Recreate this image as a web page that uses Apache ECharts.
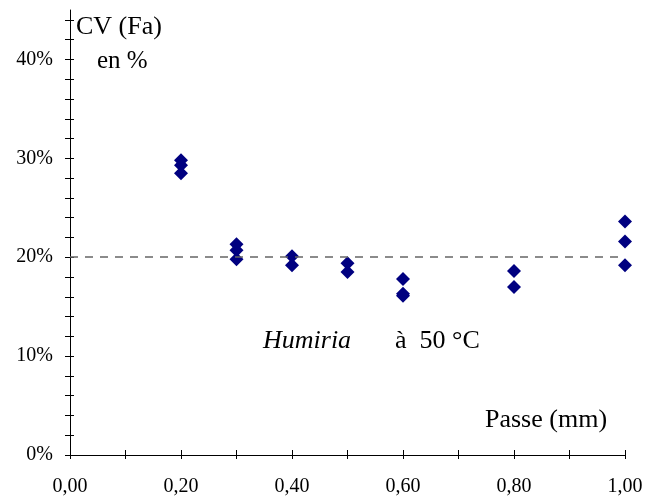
<!DOCTYPE html>
<html>
<head>
<meta charset="utf-8">
<script src="https://cdn.jsdelivr.net/npm/echarts@6/dist/echarts.min.js"></script>
<style>
  html, body { margin: 0; padding: 0; background: #fff; }
  #chart { width: 653px; height: 501px; }
</style>
</head>
<body>
<div id="chart"></div>
<script>
// Passe (mm) et CV mesurés (3 répétitions max par passe)
const passes = [0.2, 0.2, 0.2, 0.3, 0.3, 0.3, 0.4, 0.4, 0.5, 0.5, 0.6, 0.6, 0.6, 0.8, 0.8, 1.0, 1.0, 1.0];
const cvValues = [0.298, 0.293, 0.285, 0.213, 0.207, 0.198, 0.201, 0.192, 0.194, 0.185, 0.178, 0.163, 0.161, 0.186, 0.170, 0.236, 0.216, 0.192];
const refLevel = 0.20;
const xLabels = ['0,00', '0,20', '0,40', '0,60', '0,80', '1,00'];
const yLabels = ['0%', '10%', '20%', '30%', '40%'];

const font = 'Liberation Serif, Times New Roman, serif';

// positions des graduations (pas des données)
const yTicks = [];
for (let i = 0; i <= 22; i++) yTicks.push(+(i * 0.02).toFixed(2));

const chart = echarts.init(document.getElementById('chart'));

const axisLine = { lineStyle: { color: '#000', width: 1 } };

const option = {
  animation: false,
  backgroundColor: '#fff',
  grid: { left: 70, right: 28, top: 10, bottom: 46 },
  xAxis: [
    {
      type: 'value', min: 0, max: 1, interval: 0.1,
      axisLine: axisLine,
      splitLine: { show: false },
      axisTick: { show: true, length: 4, lineStyle: { color: '#000' } },
      axisLabel: {
        color: '#000', fontFamily: font, fontSize: 20, margin: 22,
        formatter: v => {
          const i = Math.round(v * 10);
          return i % 2 === 0 ? xLabels[i / 2] : '';
        }
      }
    },
    {
      type: 'value', min: 0, max: 1, interval: 0.1, position: 'bottom',
      axisLine: { show: false },
      splitLine: { show: false },
      axisTick: { show: true, inside: true, length: 5, lineStyle: { color: '#000' } },
      axisLabel: { show: false }
    }
  ],
  yAxis: [
    {
      type: 'value', min: 0, max: 0.45,
      axisLine: axisLine,
      splitLine: { show: false },
      axisTick: { show: true, length: 5, customValues: yTicks, lineStyle: { color: '#000' } },
      axisLabel: {
        color: '#000', fontFamily: font, fontSize: 20, margin: 17,
        customValues: [0, 0.1, 0.2, 0.3, 0.4],
        formatter: v => yLabels[Math.round(v * 10)]
      }
    },
    {
      type: 'value', min: 0, max: 0.45, position: 'left',
      axisLine: { show: false },
      splitLine: { show: false },
      axisTick: { show: true, inside: true, length: 4, customValues: yTicks, lineStyle: { color: '#000' } },
      axisLabel: { show: false }
    }
  ],
  series: [
    {
      type: 'scatter',
      xAxisIndex: 0, yAxisIndex: 0,
      symbol: 'path://M0,-1L1,0L0,1L-1,0Z',
      symbolSize: 14,
      itemStyle: { color: '#000080', opacity: 1 },
      data: passes.map((p, i) => [p, cvValues[i]]),
      markLine: {
        silent: true,
        symbol: 'none',
        label: { show: false },
        lineStyle: { color: '#666', type: [8, 7], width: 1.5 },
        data: [[{ coord: [0, refLevel] }, { coord: [1, refLevel] }]]
      }
    }
  ],
  graphic: [
    { type: 'text', left: 76, top: 14, style: { text: 'CV (Fa)', font: '26px ' + font, fill: '#000' } },
    { type: 'text', left: 97, top: 49, style: { text: 'en %', font: '25px ' + font, fill: '#000' } },
    { type: 'text', left: 263, top: 328, style: { text: 'Humiria', font: 'italic 26px ' + font, fill: '#000' } },
    { type: 'text', left: 395, top: 328, style: { text: 'à  50 °C', font: '26px ' + font, fill: '#000' } },
    { type: 'text', left: 485, top: 407, style: { text: 'Passe (mm)', font: '26px ' + font, fill: '#000' } }
  ]
};

chart.setOption(option);
</script>
</body>
</html>
